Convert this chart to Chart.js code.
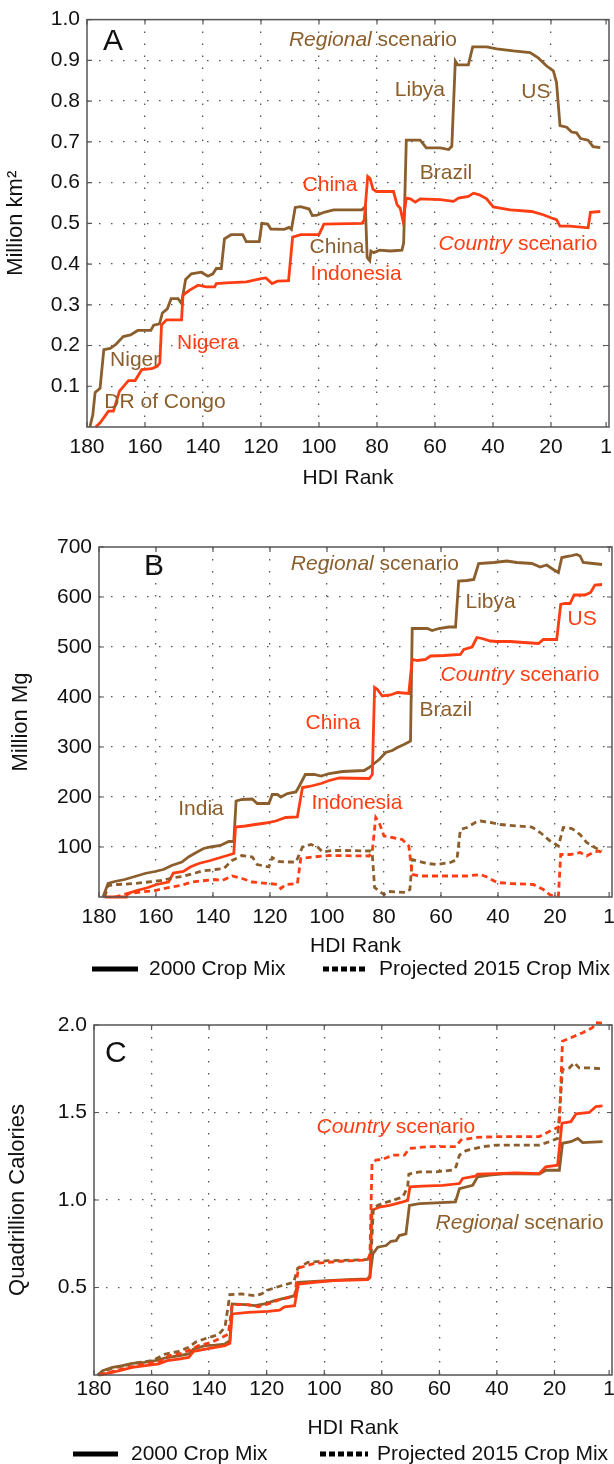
<!DOCTYPE html>
<html>
<head>
<script src="https://cdn.jsdelivr.net/npm/chart.js"></script>
<style>
  body { margin: 0; background: #fff; }
  #wrap { position: relative; width: 614px; height: 1464px; }
  canvas { position: absolute; left: 0; }
</style>
</head>
<body>
<div id="wrap">
  <canvas id="chartA" width="614" height="500" style="top:0px"></canvas>
  <canvas id="chartB" width="614" height="490" style="top:500px"></canvas>
  <canvas id="chartC" width="614" height="474" style="top:990px"></canvas>
</div>
<script>
// x axis: HDI rank, shared by all panels
const rankTicks = [180, 160, 140, 120, 100, 80, 60, 40, 20, 1];

// Panel A - cropland area (million km2)
const areaTicks = [0.1, 0.2, 0.3, 0.4, 0.5, 0.6, 0.7, 0.8, 0.9, 1.0];
const areaRegionalRank = [179, 178, 177.2, 175.5, 174.2, 172, 170, 167.5, 165, 162.5, 158, 157, 155, 154, 152.3, 151, 148.6, 147.4, 146, 144, 140.6, 138.3, 136.6, 135.4, 133.7, 132.6, 130.3, 126.3, 125.1, 120.6, 119.7, 117.7, 116.6, 112, 110.3, 109.5, 108.2, 106.3, 103.4, 102.3, 100.6, 98.3, 94.9, 85.2, 84, 83.4, 82.5, 82.1, 81.1, 79.1, 75.4, 71.4, 70.8, 69.9, 65.1, 63, 58.2, 55.3, 54.2, 53, 52.2, 48.5, 47, 42.2, 38.7, 33, 27.2, 24.4, 21.5, 19.2, 18.1, 16.9, 14.6, 12.9, 11.2, 9.8, 7.2, 5.5, 3];
const areaRegional = [0, 0.03, 0.085, 0.095, 0.19, 0.193, 0.203, 0.222, 0.226, 0.237, 0.237, 0.25, 0.253, 0.28, 0.29, 0.315, 0.315, 0.303, 0.362, 0.376, 0.38, 0.37, 0.376, 0.389, 0.389, 0.462, 0.472, 0.472, 0.455, 0.455, 0.5, 0.498, 0.486, 0.485, 0.49, 0.485, 0.539, 0.541, 0.535, 0.519, 0.52, 0.527, 0.533, 0.533, 0.541, 0.416, 0.408, 0.432, 0.428, 0.434, 0.432, 0.434, 0.452, 0.704, 0.704, 0.685, 0.685, 0.681, 0.689, 0.898, 0.889, 0.889, 0.933, 0.933, 0.928, 0.923, 0.919, 0.906, 0.886, 0.874, 0.846, 0.74, 0.736, 0.724, 0.722, 0.708, 0.704, 0.688, 0.686];
const areaCountryRank = [177, 175.4, 172.6, 170.9, 168.8, 165.7, 163.4, 161.1, 157.7, 155.8, 154.9, 154.3, 152.6, 147.4, 146.9, 144.6, 141.7, 138.9, 136, 135.4, 132, 125, 120, 118.3, 116.2, 114.3, 110.5, 109.1, 106.3, 100, 98.3, 85.2, 84.4, 83.2, 82.4, 81.4, 80.2, 74.3, 73.1, 72, 71, 69.9, 68.5, 66.8, 65.1, 58.2, 53.6, 51.9, 48.5, 46.7, 44.7, 42.2, 39.9, 34.1, 26.7, 22.7, 19.8, 18.1, 16.9, 13.5, 7.2, 6.4, 3];
const areaCountry = [0, 0.011, 0.039, 0.039, 0.088, 0.114, 0.114, 0.141, 0.143, 0.149, 0.157, 0.25, 0.263, 0.263, 0.324, 0.336, 0.348, 0.344, 0.344, 0.352, 0.354, 0.356, 0.364, 0.366, 0.352, 0.358, 0.359, 0.466, 0.472, 0.472, 0.498, 0.5, 0.508, 0.615, 0.61, 0.584, 0.578, 0.578, 0.546, 0.537, 0.505, 0.562, 0.56, 0.552, 0.56, 0.558, 0.554, 0.562, 0.566, 0.574, 0.57, 0.56, 0.54, 0.533, 0.529, 0.521, 0.513, 0.509, 0.493, 0.493, 0.489, 0.527, 0.529];

// Panel B - production (million Mg)
const massTicks = [100, 200, 300, 400, 500, 600, 700];
const massRegionalRank = [178.6, 176.8, 174.5, 171, 167.4, 163.9, 160.4, 157.4, 154.5, 150.9, 148.6, 146.2, 143.3, 140.9, 137.4, 134.5, 132.7, 131.9, 129.8, 126.2, 124.5, 120.4, 119.2, 117.4, 116.2, 113.9, 110.9, 109.8, 107.6, 104.5, 102.1, 99.2, 94.5, 87, 85.2, 84.1, 81.7, 79.4, 77.1, 75.3, 73, 71.3, 70.7, 70.1, 64.8, 63.1, 60.8, 57.3, 54.9, 53.8, 50.9, 48.5, 46.8, 41.5, 36.9, 33.4, 28.1, 25.2, 22.9, 20.6, 18.8, 17.6, 14.7, 12.4, 11.2, 10.1, 6.6, 3.5];
const massRegional = [0, 27, 31, 35, 41, 47, 51, 55, 63, 70, 80, 88, 97, 100, 103, 111, 111, 192, 195, 196, 187, 187, 205, 205, 200, 207, 210, 221, 245, 245, 242, 247, 251, 253, 259, 264, 275, 289, 293, 299, 305, 310, 312, 537, 537, 533, 537, 540, 540, 632, 633, 635, 667, 669, 672, 669, 667, 660, 664, 655, 649, 679, 682, 685, 682, 669, 667, 665];
const massCountryRank = [178, 170.4, 169.8, 166.8, 163.3, 159.8, 155.6, 153.9, 150.4, 148, 145, 140.9, 136.8, 132.7, 132.1, 128.6, 125.1, 121.5, 118, 114.5, 110.4, 108.6, 106.2, 102.1, 99.2, 95.6, 85.2, 84.1, 83.3, 82.3, 80.6, 77.7, 75.3, 71.3, 70.1, 68.3, 65.4, 63.7, 59, 53.2, 52, 49.1, 47.4, 45.6, 42.7, 40.4, 35.7, 31, 25.8, 24.1, 19.4, 18, 16.5, 14.7, 13.3, 9.5, 7.5, 6, 3.5];
const massCountry = [0, 0, 7, 13, 18, 25, 30, 48, 51, 60, 67, 73, 80, 87, 140, 142, 145, 148, 152, 159, 160, 219, 221, 227, 233, 238, 237, 245, 419, 415, 402, 404, 409, 407, 475, 473, 475, 482, 483, 485, 495, 500, 519, 517, 512, 511, 511, 509, 507, 515, 515, 585, 587, 587, 604, 604, 609, 624, 625];
const massRegional2015Rank = [178, 176.8, 173.3, 167.4, 162.7, 158, 154.5, 150.9, 146.2, 143.9, 139.2, 136.2, 133.3, 129.8, 126.2, 124.5, 120.4, 119.2, 116.8, 113.9, 110.9, 108.6, 105.6, 103.3, 101.5, 98, 93.3, 84.7, 84.1, 83.3, 80, 78.3, 72.4, 70.9, 70.1, 68.3, 64.8, 61.4, 56.7, 54.4, 53.2, 50.9, 48, 46.2, 42.7, 39.2, 33.4, 28.1, 25.2, 21.7, 18.8, 17.1, 14.1, 11.2, 8.9, 6, 3.5];
const massRegional2015 = [0, 23, 25, 27, 30, 33, 38, 41, 48, 52, 55, 57, 73, 83, 80, 65, 60, 79, 71, 70, 70, 100, 105, 100, 90, 93, 93, 92, 85, 19, 5, 11, 9, 15, 75, 72, 67, 65, 69, 75, 135, 139, 149, 152, 149, 145, 142, 140, 129, 112, 102, 139, 137, 125, 109, 99, 92];
const massCountry2015Rank = [174.5, 169.8, 165.1, 160.4, 155.6, 151.5, 147.4, 142.7, 139.2, 136.8, 133.3, 129.8, 126.2, 120.4, 117.4, 116.2, 114.5, 110.4, 109.2, 105, 99.2, 85.2, 84.1, 82.9, 81.7, 80, 77.1, 73.6, 71.3, 70.1, 67.2, 56.7, 50.9, 46.2, 43.9, 40.4, 35.7, 27.6, 24.1, 21.7, 18.8, 18, 14.7, 11.2, 8.9, 6.6, 4.8, 3.5];
const massCountry2015 = [0, 7, 10, 13, 19, 23, 30, 33, 35, 33, 42, 37, 30, 27, 25, 17, 25, 27, 77, 80, 83, 82, 92, 159, 149, 122, 119, 115, 102, 45, 42, 42, 42, 45, 40, 29, 27, 25, 15, 4, 2, 85, 85, 89, 82, 89, 92, 89];

// Panel C - calories (quadrillion)
const calTicks = [0.5, 1.0, 1.5, 2.0];
const calRegionalRank = [178.7, 177, 173.6, 170.1, 166.7, 162.6, 158.6, 154.6, 150.6, 147.1, 145.4, 141.4, 137.9, 134.5, 132.8, 132, 127.6, 124.1, 120.7, 117.2, 112.6, 110.3, 109, 103.4, 98.9, 92, 84.9, 84.1, 83.1, 81.4, 78.5, 76.8, 75, 73.9, 71.6, 70.4, 66.9, 61.1, 54.4, 53, 48.4, 46.7, 42.6, 36.8, 25.3, 23, 18.3, 17.2, 14.3, 11.9, 10.2, 3.3];
const calRegional = [0, 0.025, 0.044, 0.053, 0.067, 0.072, 0.082, 0.1, 0.11, 0.12, 0.149, 0.168, 0.171, 0.177, 0.196, 0.406, 0.402, 0.396, 0.406, 0.425, 0.444, 0.453, 0.53, 0.535, 0.539, 0.545, 0.549, 0.567, 0.692, 0.73, 0.74, 0.764, 0.768, 0.797, 0.807, 0.969, 0.979, 0.983, 0.989, 1.065, 1.084, 1.132, 1.142, 1.151, 1.148, 1.17, 1.17, 1.324, 1.333, 1.352, 1.328, 1.333];
const calCountryRank = [178.2, 174.7, 170.1, 166.7, 162.1, 157.5, 154.6, 150.6, 147.1, 145.4, 140.8, 137.9, 134.5, 132.8, 132, 126.4, 119.5, 115.5, 113.8, 110.3, 109, 103.4, 96.6, 84.9, 84.1, 83.4, 80.8, 77.3, 72.7, 71, 70.2, 65.8, 58.8, 53, 51.9, 47.5, 46.7, 40.3, 33.4, 25.3, 23, 18.9, 17.4, 14.3, 12.5, 7.9, 5.6, 3.3];
const calCountry = [0, 0.01, 0.029, 0.044, 0.053, 0.063, 0.082, 0.091, 0.1, 0.135, 0.149, 0.158, 0.168, 0.181, 0.349, 0.358, 0.364, 0.371, 0.39, 0.396, 0.52, 0.53, 0.539, 0.545, 0.557, 0.941, 0.96, 0.969, 0.989, 0.998, 1.075, 1.079, 1.084, 1.094, 1.123, 1.136, 1.148, 1.151, 1.155, 1.151, 1.19, 1.199, 1.439, 1.448, 1.492, 1.5, 1.534, 1.538];
const calRegional2015Rank = [178.7, 174.7, 170.1, 164.4, 159.8, 155.2, 150.6, 147.1, 144.8, 140.8, 136.8, 134.5, 132.8, 128.7, 124.1, 121.8, 119.5, 114.9, 110.6, 109.2, 105.7, 98.9, 89.7, 84.9, 83.7, 82.9, 79.7, 76.2, 72.7, 71, 70.6, 66.9, 61.1, 55.3, 54.2, 53, 50.7, 44.9, 40.3, 25.3, 21.8, 18.9, 17.2, 14.8, 13.1, 11.4, 7.9, 3.3];
const calRegional2015 = [0, 0.034, 0.051, 0.072, 0.082, 0.12, 0.135, 0.158, 0.187, 0.211, 0.23, 0.272, 0.459, 0.463, 0.453, 0.463, 0.486, 0.51, 0.53, 0.611, 0.644, 0.653, 0.657, 0.66, 0.692, 0.958, 0.981, 0.998, 1.017, 1.075, 1.148, 1.161, 1.161, 1.171, 1.19, 1.257, 1.282, 1.305, 1.314, 1.314, 1.333, 1.352, 1.745, 1.755, 1.784, 1.755, 1.755, 1.749];
const calCountry2015Rank = [178.2, 173.6, 167.8, 162.1, 157.5, 154, 149.4, 146, 143.7, 139.1, 135.6, 133.3, 132, 126.4, 122.9, 119.5, 114.9, 110.3, 109, 103.4, 94.3, 84.9, 84.1, 83.4, 82, 79.7, 76.2, 72.1, 70.4, 63.4, 54.2, 52.5, 47.2, 40.3, 25.3, 21.8, 18.3, 17.2, 14.3, 10.2, 6.8, 5.6, 3.3];
const calCountry2015 = [0, 0.02, 0.044, 0.063, 0.072, 0.11, 0.124, 0.149, 0.168, 0.187, 0.215, 0.234, 0.402, 0.402, 0.39, 0.406, 0.434, 0.448, 0.611, 0.638, 0.65, 0.657, 0.692, 1.209, 1.228, 1.232, 1.257, 1.257, 1.295, 1.305, 1.305, 1.343, 1.358, 1.362, 1.362, 1.391, 1.42, 1.908, 1.927, 1.956, 1.985, 2.013, 2.01];

const BROWN = '#8b5e2c';
const ORANGE = '#ff3d12';
const INK = '#111';
const FONT = "'Liberation Sans', Arial, sans-serif";
const TXT = 21;

function pts(ranks, vals) {
    return ranks.map((r, i) => ({ x: r, y: vals[i] }));
}

function line(ranks, vals, color, dashed) {
    return {
        data: pts(ranks, vals),
        borderColor: color,
        borderWidth: 2.8,
        borderDash: dashed ? [6, 4] : [],
        pointRadius: 0,
        tension: 0,
        fill: false,
        clip: 6
    };
}

// text labels, placed in data units
const notes = {
    chartA: [
        { x: 171, y: 0.946, c: INK, size: 30, parts: [{ t: 'A' }] },
        { x: 81.4, y: 0.949, c: BROWN, parts: [{ t: 'Regional', i: true }, { t: ' scenario' }] },
        { x: 65.2, y: 0.827, c: BROWN, parts: [{ t: 'Libya' }] },
        { x: 25.2, y: 0.822, c: BROWN, parts: [{ t: 'US' }] },
        { x: 56.2, y: 0.622, c: BROWN, parts: [{ t: 'Brazil' }] },
        { x: 96.2, y: 0.593, c: ORANGE, parts: [{ t: 'China' }] },
        { x: 93.8, y: 0.441, c: BROWN, parts: [{ t: 'China' }] },
        { x: 87.2, y: 0.376, c: ORANGE, parts: [{ t: 'Indonesia' }] },
        { x: 31.4, y: 0.449, c: ORANGE, parts: [{ t: 'Country', i: true }, { t: ' scenario' }] },
        { x: 138.3, y: 0.205, c: ORANGE, parts: [{ t: 'Nigera' }] },
        { x: 163.4, y: 0.163, c: BROWN, parts: [{ t: 'Niger' }] },
        { x: 153.1, y: 0.061, c: BROWN, parts: [{ t: 'DR of Congo' }] }
    ],
    chartB: [
        { x: 160.7, y: 660, c: INK, size: 30, parts: [{ t: 'B' }] },
        { x: 83.2, y: 666, c: BROWN, parts: [{ t: 'Regional', i: true }, { t: ' scenario' }] },
        { x: 42.6, y: 590, c: BROWN, parts: [{ t: 'Libya' }] },
        { x: 10.5, y: 556, c: ORANGE, parts: [{ t: 'US' }] },
        { x: 32.3, y: 444, c: ORANGE, parts: [{ t: 'Country', i: true }, { t: ' scenario' }] },
        { x: 58.3, y: 374, c: BROWN, parts: [{ t: 'Brazil' }] },
        { x: 97.9, y: 348, c: ORANGE, parts: [{ t: 'China' }] },
        { x: 89.5, y: 188, c: ORANGE, parts: [{ t: 'Indonesia' }] },
        { x: 144.2, y: 176, c: BROWN, parts: [{ t: 'India' }] }
    ],
    chartC: [
        { x: 172.4, y: 1.835, c: INK, size: 30, parts: [{ t: 'C' }] },
        { x: 75.1, y: 1.415, c: ORANGE, parts: [{ t: 'Country', i: true }, { t: ' scenario' }] },
        { x: 32.1, y: 0.869, c: BROWN, parts: [{ t: 'Regional', i: true }, { t: ' scenario' }] }
    ]
};

// legend rows (canvas pixels)
const legends = {
    chartB: { y: 469, solid: [92, 138], text1: 149, dots: [323, 368], text2: 379 },
    chartC: { y: 464, solid: [73, 118], text1: 131, dots: [320, 368], text2: 377 }
};

const notesPlugin = {
    id: 'notes',
    afterDraw(chart) {
        const ctx = chart.ctx;
        const xs = chart.scales.x, ys = chart.scales.y;
        ctx.save();
        ctx.textBaseline = 'middle';
        ctx.textAlign = 'left';
        (notes[chart.canvas.id] || []).forEach(n => {
            const size = n.size || TXT;
            let total = 0;
            const parts = n.parts.map(p => {
                ctx.font = (p.i ? 'italic ' : '') + size + 'px ' + FONT;
                const w = ctx.measureText(p.t).width;
                total += w;
                return { t: p.t, i: p.i, w: w };
            });
            let x = xs.getPixelForValue(n.x) - total / 2;
            const y = ys.getPixelForValue(n.y);
            ctx.fillStyle = n.c;
            parts.forEach(p => {
                ctx.font = (p.i ? 'italic ' : '') + size + 'px ' + FONT;
                ctx.fillText(p.t, x, y);
                x += p.w;
            });
        });

        const lg = legends[chart.canvas.id];
        if (lg) {
            ctx.strokeStyle = '#000';
            ctx.lineWidth = 5;
            ctx.beginPath();
            ctx.moveTo(lg.solid[0], lg.y);
            ctx.lineTo(lg.solid[1], lg.y);
            ctx.stroke();
            ctx.setLineDash([6, 3]);
            ctx.beginPath();
            ctx.moveTo(lg.dots[0], lg.y);
            ctx.lineTo(lg.dots[1], lg.y);
            ctx.stroke();
            ctx.setLineDash([]);
            ctx.fillStyle = INK;
            ctx.font = TXT + 'px ' + FONT;
            ctx.fillText('2000 Crop Mix', lg.text1, lg.y);
            ctx.fillText('Projected 2015 Crop Mix', lg.text2, lg.y);
        }
        ctx.restore();
    }
};

// box around the plot with small inward ticks
const framePlugin = {
    id: 'frame',
    afterDatasetsDraw(chart) {
        const { ctx, chartArea: a } = chart;
        const xs = chart.scales.x, ys = chart.scales.y;
        ctx.save();
        ctx.strokeStyle = '#555';
        ctx.lineWidth = 1.5;
        ctx.strokeRect(a.left, a.top, a.right - a.left, a.bottom - a.top);
        ctx.lineWidth = 1.2;
        ctx.beginPath();
        xs.ticks.forEach(t => {
            const px = xs.getPixelForValue(t.value);
            ctx.moveTo(px, a.bottom); ctx.lineTo(px, a.bottom - 5);
            ctx.moveTo(px, a.top); ctx.lineTo(px, a.top + 5);
        });
        ys.ticks.forEach(t => {
            const py = ys.getPixelForValue(t.value);
            ctx.moveTo(a.left, py); ctx.lineTo(a.left + 5, py);
            ctx.moveTo(a.right, py); ctx.lineTo(a.right - 5, py);
        });
        ctx.stroke();
        ctx.restore();
    }
};

function makeChart(id, p) {
    const clear = 'rgba(0,0,0,0)';
    return new Chart(document.getElementById(id), {
        type: 'line',
        data: { datasets: p.datasets },
        options: {
            responsive: false,
            animation: false,
            layout: { padding: { top: p.padTop, right: p.padRight, bottom: p.padBottom, left: 0 } },
            plugins: { legend: { display: false }, tooltip: { enabled: false } },
            scales: {
                x: {
                    type: 'linear',
                    min: 0,
                    max: 180,
                    reverse: true,
                    afterBuildTicks: s => { s.ticks = rankTicks.map(v => ({ value: v })); },
                    afterFit: s => { s.height = p.xHeight; s.paddingLeft = 0; s.paddingRight = 0; },
                    grid: {
                        drawTicks: false,
                        lineWidth: 1.3,
                        color: c => (c.tick && (c.tick.value === 180 || c.tick.value === 1)) ? clear : '#555'
                    },
                    border: { display: false, dash: [1.5, 10.5] },
                    ticks: {
                        color: INK,
                        padding: p.xPad,
                        maxRotation: 0,
                        autoSkip: false,
                        font: { family: FONT, size: TXT },
                        callback: v => String(v)
                    },
                    title: {
                        display: true,
                        text: 'HDI Rank',
                        color: INK,
                        font: { family: FONT, size: TXT },
                        padding: { top: 0, bottom: 1 }
                    }
                },
                y: {
                    min: 0,
                    max: p.yMax,
                    afterBuildTicks: s => { s.ticks = p.yTicks.map(v => ({ value: v })); },
                    afterFit: s => { s.width = p.yWidth; },
                    grid: {
                        drawTicks: false,
                        lineWidth: 1.3,
                        color: c => (c.tick && c.tick.value === p.yMax) ? clear : '#555'
                    },
                    border: { display: false, dash: [1.5, 10.5] },
                    ticks: {
                        color: INK,
                        padding: 7,
                        font: { family: FONT, size: TXT },
                        callback: p.yFmt
                    },
                    title: {
                        display: true,
                        text: p.yTitle,
                        color: INK,
                        font: { family: FONT, size: 22 },
                        padding: { top: p.yTitlePad, bottom: 0 }
                    }
                }
            }
        },
        plugins: [framePlugin, notesPlugin]
    });
}

makeChart('chartA', {
    datasets: [
        line(areaCountryRank, areaCountry, ORANGE, false),
        line(areaRegionalRank, areaRegional, BROWN, false)
    ],
    yMax: 1.0, yTicks: areaTicks, yFmt: v => v.toFixed(1), yTitle: 'Million km²',
    padTop: 17, padRight: 5, padBottom: 8, xHeight: 65, xPad: 8, yWidth: 87, yTitlePad: 3
});

makeChart('chartB', {
    datasets: [
        line(massCountry2015Rank, massCountry2015, ORANGE, true),
        line(massRegional2015Rank, massRegional2015, BROWN, true),
        line(massCountryRank, massCountry, ORANGE, false),
        line(massRegionalRank, massRegional, BROWN, false)
    ],
    yMax: 700, yTicks: massTicks, yFmt: v => String(v), yTitle: 'Million Mg',
    padTop: 47, padRight: 2, padBottom: 30, xHeight: 63, xPad: 8, yWidth: 99, yTitlePad: 8
});

makeChart('chartC', {
    datasets: [
        line(calCountry2015Rank, calCountry2015, ORANGE, true),
        line(calRegional2015Rank, calRegional2015, BROWN, true),
        line(calCountryRank, calCountry, ORANGE, false),
        line(calRegionalRank, calRegional, BROWN, false)
    ],
    yMax: 2.0, yTicks: calTicks, yFmt: v => v.toFixed(1), yTitle: 'Quadrillion Calories',
    padTop: 35, padRight: 2, padBottom: 22, xHeight: 67, xPad: 2, yWidth: 94, yTitlePad: 5
});
</script>
</body>
</html>
